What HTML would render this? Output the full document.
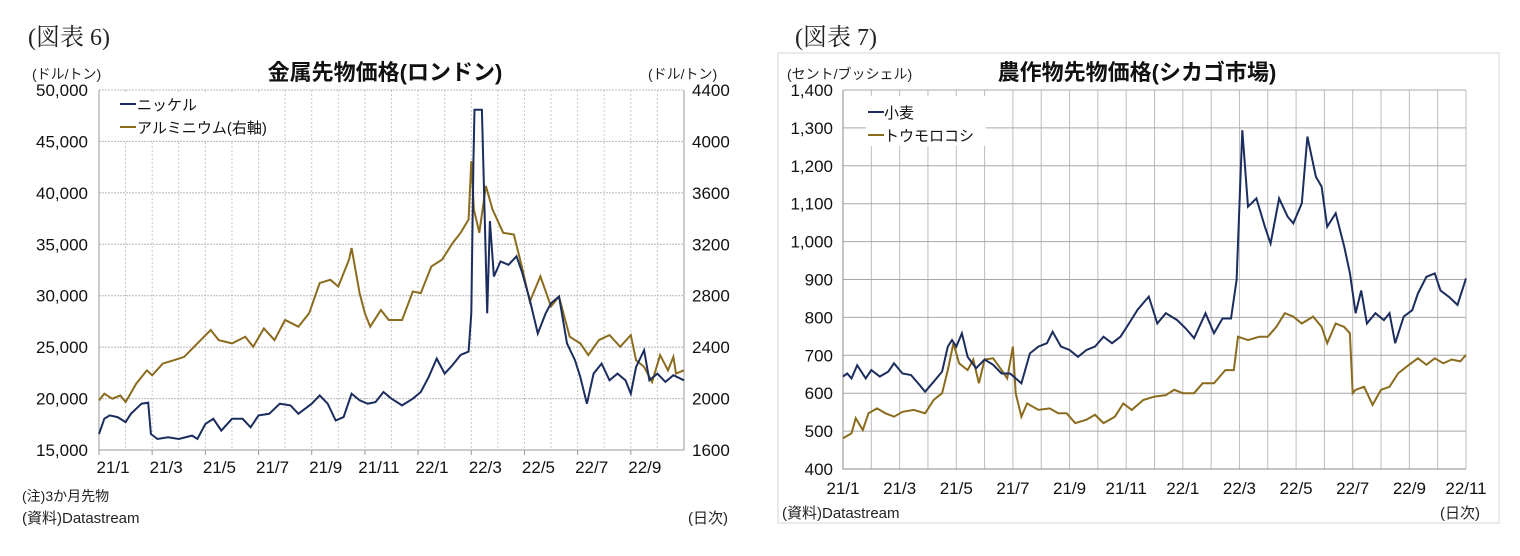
<!DOCTYPE html>
<html><head><meta charset="utf-8">
<style>
html,body{margin:0;padding:0;background:#fff;}
svg{display:block;font-family:"Liberation Sans","Noto Sans CJK JP",sans-serif;}
.serif{font-family:"Liberation Serif","Noto Serif CJK SC",serif;}
</style></head>
<body>
<svg id="svg" width="1520" height="556" viewBox="0 0 1520 556" xmlns="http://www.w3.org/2000/svg">
<rect x="778" y="53" width="721" height="470" fill="none" stroke="#e4e4e4" stroke-width="1.5"/>
<text x="28" y="45" font-size="24" class="serif" fill="#222">(図表 6)</text>
<text x="385" y="80" font-size="22" font-weight="600" text-anchor="middle" fill="#111">金属先物価格(ロンドン)</text>
<text x="32" y="79" font-size="14" fill="#222">(ドル/トン)</text>
<text x="648" y="79" font-size="14" fill="#222">(ドル/トン)</text>
<text x="22" y="501" font-size="14" fill="#222">(注)3か月先物</text>
<text x="22" y="523" font-size="15" fill="#222">(資料)Datastream</text>
<text x="688" y="523" font-size="15" fill="#222">(日次)</text>
<text x="795" y="45" font-size="24" class="serif" fill="#222">(図表 7)</text>
<text x="1137" y="80" font-size="22" font-weight="600" text-anchor="middle" fill="#111">農作物先物価格(シカゴ市場)</text>
<text x="787" y="79" font-size="14" fill="#222">(セント/ブッシェル)</text>
<text x="782" y="518" font-size="15" fill="#222">(資料)Datastream</text>
<text x="1440" y="518" font-size="15" fill="#222">(日次)</text>
<g id="left"></g>
<g id="right"></g>
</svg>
<script>
// ---- Left chart data (months since 2021/1) ----
const nickelMonths = [0,0.2,0.4,0.7,1.0,1.2,1.6,1.85,1.95,2.2,2.6,3.0,3.5,3.7,4.0,4.3,4.6,5.0,5.4,5.7,6.0,6.4,6.8,7.2,7.5,8.0,8.3,8.6,8.9,9.2,9.5,9.8,10.1,10.4,10.7,11.0,11.4,11.8,12.1,12.4,12.7,13.0,13.3,13.6,13.9,14.0,14.08,14.12,14.4,14.5,14.6,14.7,14.85,15.1,15.4,15.7,15.9,16.2,16.5,16.8,17.0,17.3,17.6,17.9,18.1,18.35,18.6,18.9,19.2,19.5,19.8,20.0,20.2,20.5,20.7,21.0,21.3,21.6,22.0];
const nickelValues = [16560,18030,18360,18200,17710,18520,19500,19600,16560,16070,16230,16070,16400,16070,17540,18030,16890,18030,18030,17210,18360,18520,19500,19340,18520,19500,20310,19500,17870,18200,20470,19830,19500,19660,20640,19990,19340,19990,20640,22100,23890,22430,23270,24240,24570,28290,42900,48080,48080,38100,28290,37250,31870,33340,33010,33830,32360,29590,26330,28290,29260,29920,25360,23730,22100,19500,22430,23400,21780,22430,21780,20470,23080,24700,21780,22430,21620,22270,21780];
const aluMonths = [0,0.2,0.5,0.8,1.0,1.4,1.8,2.0,2.4,2.8,3.2,3.7,4.2,4.5,5.0,5.5,5.8,6.2,6.6,7.0,7.5,7.9,8.3,8.7,9.0,9.4,9.5,9.8,10.0,10.2,10.6,10.9,11.4,11.8,12.1,12.5,12.9,13.3,13.6,13.9,14.0,14.1,14.3,14.55,14.8,15.2,15.6,15.9,16.2,16.6,17.0,17.3,17.7,18.1,18.4,18.8,19.2,19.6,20.0,20.2,20.5,20.8,21.1,21.4,21.6,21.7,22.0];
const aluValues = [1986,2038,1999,2025,1973,2116,2220,2181,2272,2298,2324,2429,2533,2455,2429,2481,2403,2546,2455,2611,2559,2663,2898,2924,2872,3080,3171,2820,2663,2559,2689,2611,2611,2833,2820,3028,3080,3210,3289,3393,3848,3471,3289,3653,3471,3289,3276,3028,2755,2950,2716,2794,2481,2429,2338,2455,2494,2403,2494,2298,2246,2129,2338,2220,2324,2194,2220];
const leftTicks = ["15,000","20,000","25,000","30,000","35,000","40,000","45,000","50,000"];
const rightTicks = ["1600","2000","2400","2800","3200","3600","4000","4400"];
const leftXLabels = ["21/1","21/3","21/5","21/7","21/9","21/11","22/1","22/3","22/5","22/7","22/9"];
// ---- Right chart data ----
const wheatMonths = [0,0.15,0.3,0.5,0.8,1.0,1.3,1.6,1.8,2.1,2.4,2.7,2.9,3.2,3.5,3.7,3.85,4.0,4.2,4.4,4.7,5.0,5.3,5.6,5.9,6.1,6.3,6.6,6.9,7.2,7.4,7.7,8.0,8.3,8.6,8.9,9.2,9.5,9.8,10.1,10.4,10.8,11.1,11.4,11.8,12.1,12.4,12.8,13.1,13.4,13.7,13.9,14.1,14.3,14.6,14.9,15.1,15.4,15.7,15.9,16.2,16.4,16.7,16.9,17.1,17.4,17.7,17.9,18.1,18.3,18.5,18.8,19.1,19.3,19.5,19.8,20.1,20.3,20.6,20.9,21.1,21.4,21.7,22.0];
const wheatValues = [644,652,639,674,639,661,644,657,679,652,648,622,604,630,657,723,740,723,758,696,666,689,675,652,652,639,626,705,723,732,762,723,714,696,714,723,749,732,749,784,820,855,784,811,793,771,745,811,758,797,797,899,1294,1092,1114,1039,995,1114,1066,1048,1101,1277,1171,1145,1039,1075,987,917,811,871,784,811,793,811,732,802,819,863,907,916,871,854,833,903];
const cornMonths = [0,0.3,0.45,0.7,0.9,1.2,1.5,1.8,2.1,2.5,2.9,3.2,3.5,3.7,3.9,4.1,4.4,4.6,4.8,5.0,5.3,5.6,5.8,6.0,6.1,6.3,6.5,6.9,7.3,7.6,7.9,8.2,8.6,8.9,9.2,9.6,9.9,10.2,10.6,11.0,11.4,11.7,12.0,12.4,12.7,13.1,13.5,13.8,13.95,14.3,14.7,15.0,15.3,15.6,15.9,16.2,16.6,16.9,17.1,17.4,17.7,17.9,18.0,18.1,18.4,18.7,19.0,19.3,19.6,19.9,20.3,20.6,20.9,21.2,21.5,21.8,22.0];
const cornValues = [481,494,534,503,547,560,547,538,551,556,547,582,600,661,732,679,661,689,626,689,692,661,639,723,600,538,573,556,560,547,547,521,530,543,521,538,573,556,582,591,595,609,600,600,626,626,661,661,749,740,749,749,775,811,802,784,802,775,732,784,775,758,600,609,617,569,609,617,652,670,692,675,692,679,689,684,701];
const agTicks = ["400","500","600","700","800","900","1,000","1,100","1,200","1,300","1,400"];
const agXLabels = ["21/1","21/3","21/5","21/7","21/9","21/11","22/1","22/3","22/5","22/7","22/9","22/11"];

const NS="http://www.w3.org/2000/svg";
function mk(tag, attrs, parent, txt){const e=document.createElementNS(NS,tag);for(const k in attrs)e.setAttribute(k,attrs[k]);if(txt!==undefined)e.textContent=txt;parent.appendChild(e);return e;}
const NAVY="#1b2d5e", GOLD="#8b6c1f";

// ---- Left chart ----
(function(){
  const g=document.getElementById('left');
  const x0=99,x1=684,y0=450,y1=90;
  const xm=m=>x0+m*(x1-x0)/22;
  const yL=v=>y0-(v-15000)*(y0-y1)/35000;
  const yR=v=>y0-(v-1600)*(y0-y1)/2800;
  for(let m=1;m<=22;m++){const l=mk('line',{x1:xm(m),x2:xm(m),y1:y1,y2:y0,stroke:'#c8c8c8','stroke-dasharray':'2,2'},g);
    
    }
  leftTicks.forEach((t,i)=>{const y=y0-i*(y0-y1)/(leftTicks.length-1);
    const l=mk('line',{x1:x0,x2:x1,y1:y,y2:y,stroke:'#b8b8b8','stroke-dasharray':'2,1'},g);
    
    
    const a=mk('text',{x:88,y:y+6,'font-size':17,'text-anchor':'end',fill:'#111'},g,t);
    
    
    const b=mk('text',{x:692,y:y+6,'font-size':17,fill:'#111'},g,rightTicks[i]);
    
    });
  const ax=mk('path',{d:`M${x0},${y1}V${y0}H${x1}V${y1}`,fill:'none',stroke:'#999'},g);
  
  
  leftXLabels.forEach((t,i)=>{const x=xm(i*2);
    const tk=mk('line',{x1:x,x2:x,y1:y0,y2:y0+5,stroke:'#999'},g);
    
    
    const a=mk('text',{x:x+14,y:y0+23,'font-size':17,'text-anchor':'middle',fill:'#111'},g,t);
    
    });
  const pa=mk('path',{d:aluMonths.map((m,i)=>(i?'L':'M')+xm(m).toFixed(1)+','+yR(aluValues[i]).toFixed(1)).join(''),fill:'none',stroke:GOLD,'stroke-width':2},g);
  
  
  const pn=mk('path',{d:nickelMonths.map((m,i)=>(i?'L':'M')+xm(m).toFixed(1)+','+yL(nickelValues[i]).toFixed(1)).join(''),fill:'none',stroke:NAVY,'stroke-width':2},g);
  
  
  const lg=mk('g',{},g);
  
  
  mk('rect',{x:116,y:94,width:160,height:46,fill:'#fff'},lg);
  mk('line',{x1:120,x2:136,y1:104,y2:104,stroke:NAVY,'stroke-width':2},lg);
  mk('text',{x:137,y:110,'font-size':15,fill:'#111'},lg,'ニッケル');
  mk('line',{x1:120,x2:136,y1:127,y2:127,stroke:GOLD,'stroke-width':2},lg);
  mk('text',{x:137,y:133,'font-size':15,fill:'#111'},lg,'アルミニウム(右軸)');
})();

// ---- Right chart ----
(function(){
  const g=document.getElementById('right');
  const x0=843,x1=1466,y0=469,y1=90;
  const xm=m=>x0+m*(x1-x0)/22;
  const y=v=>y0-(v-400)*(y0-y1)/1000;
  for(let m=1;m<=22;m++){const l=mk('line',{x1:xm(m),x2:xm(m),y1:y1,y2:y0,stroke:'#bdbdbd'},g);
    
    }
  agTicks.forEach((t,i)=>{const yy=y0-i*(y0-y1)/(agTicks.length-1);
    const l=mk('line',{x1:x0,x2:x1,y1:yy,y2:yy,stroke:'#a8a8a8'},g);
    
    
    const a=mk('text',{x:833,y:yy+6,'font-size':17,'text-anchor':'end',fill:'#111'},g,t);
    
    });
  const ax=mk('path',{d:`M${x0},${y1}V${y0}H${x1}`,fill:'none',stroke:'#888'},g);
  
  
  agXLabels.forEach((t,i)=>{const x=xm(i*2);
    const a=mk('text',{x:x,y:y0+25,'font-size':17,'text-anchor':'middle',fill:'#111'},g,t);
    
    });
  const pc=mk('path',{d:cornMonths.map((m,i)=>(i?'L':'M')+xm(m).toFixed(1)+','+y(cornValues[i]).toFixed(1)).join(''),fill:'none',stroke:GOLD,'stroke-width':2},g);
  
  
  const pw=mk('path',{d:wheatMonths.map((m,i)=>(i?'L':'M')+xm(m).toFixed(1)+','+y(wheatValues[i]).toFixed(1)).join(''),fill:'none',stroke:NAVY,'stroke-width':2},g);
  
  
  const lg=mk('g',{},g);
  
  
  mk('rect',{x:866,y:96,width:120,height:50,fill:'#fff'},lg);
  mk('line',{x1:868,x2:884,y1:112,y2:112,stroke:NAVY,'stroke-width':2},lg);
  mk('text',{x:884,y:118,'font-size':15,fill:'#111'},lg,'小麦');
  mk('line',{x1:868,x2:884,y1:135,y2:135,stroke:GOLD,'stroke-width':2},lg);
  mk('text',{x:884,y:141,'font-size':15,fill:'#111'},lg,'トウモロコシ');
})();
</script>
</body></html>
